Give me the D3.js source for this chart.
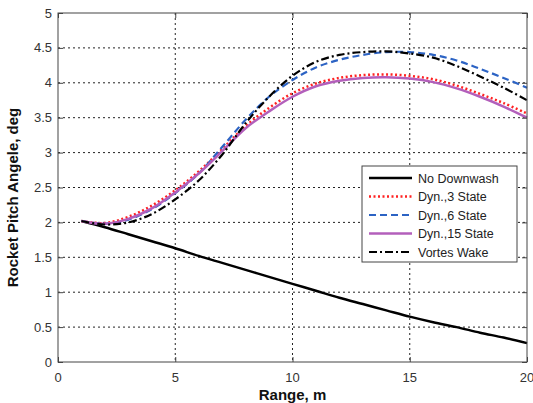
<!DOCTYPE html>
<html lang="en">
<head>
  <meta charset="UTF-8">
  <title>Rocket Pitch Angle vs Range</title>
  <script src="https://d3js.org/d3.v7.min.js"></script>
  <style>
    body {
      margin: 0;
      background: #fff;
      font-family: "Liberation Sans", Arial, sans-serif;
    }
    .grid line {
      stroke: #222;
      stroke-width: 1;
      stroke-dasharray: 2,3;
    }
    .tick-label {
      font-size: 13px;
      fill: #333;
    }
    .title {
      font-size: 15px;
      font-weight: bold;
      fill: #111;
    }
    .legend text {
      font-size: 12.5px;
      fill: #222;
    }
  </style>
</head>
<body>
  <script>
    const width = 533;
    const height = 403;

    // range samples (m)
    const range = [1, 2, 3, 4, 5, 6, 7, 8, 9, 10, 11, 12, 13, 14, 15, 16, 17, 18, 19, 20];

    // pitch angle, deg
    const noDownwash = [2.02, 1.93, 1.83, 1.73, 1.63, 1.52, 1.42, 1.32, 1.22, 1.12, 1.02, 0.92, 0.83, 0.74, 0.65, 0.57, 0.5, 0.42, 0.35, 0.27];
    const dyn3 = [2.02, 1.99, 2.08, 2.24, 2.46, 2.73, 3.05, 3.38, 3.64, 3.85, 3.99, 4.07, 4.11, 4.12, 4.1, 4.05, 3.96, 3.84, 3.71, 3.56];
    const dyn6 = [2.02, 1.98, 2.04, 2.19, 2.42, 2.7, 3.08, 3.47, 3.8, 4.04, 4.22, 4.33, 4.4, 4.44, 4.44, 4.4, 4.32, 4.2, 4.07, 3.93];
    const dyn15 = [2.02, 1.98, 2.05, 2.2, 2.43, 2.7, 3.02, 3.35, 3.59, 3.8, 3.95, 4.03, 4.07, 4.08, 4.06, 4.01, 3.92, 3.8, 3.66, 3.5];
    const vortex = [2.02, 1.97, 2.0, 2.12, 2.33, 2.6, 2.97, 3.42, 3.8, 4.1, 4.3, 4.4, 4.44, 4.45, 4.42, 4.36, 4.24, 4.09, 3.93, 3.75];

    const xTicks = [0, 5, 10, 15, 20];
    const yTicks = [0, 0.5, 1, 1.5, 2, 2.5, 3, 3.5, 4, 4.5, 5];

    const series = [
      { name: "No Downwash", values: noDownwash, color: "#000", width: 2.5, dash: null },
      { name: "Dyn.,3 State", values: dyn3, color: "#f22", width: 2.5, dash: "2,2.5" },
      { name: "Dyn.,6 State", values: dyn6, color: "#2c63c4", width: 2.2, dash: "7,4" },
      { name: "Dyn.,15 State", values: dyn15, color: "#b35fbb", width: 2.5, dash: null },
      { name: "Vortes Wake", values: vortex, color: "#000", width: 2.2, dash: "8,3,2,3" }
    ];

    const margin = { top: 13, right: 6, bottom: 41, left: 58 };
    const w = width - margin.left - margin.right;
    const h = height - margin.top - margin.bottom;

    const svg = d3.select("body").append("svg")
      .attr("width", width)
      .attr("height", height);

    const g = svg.append("g")
      .attr("transform", `translate(${margin.left},${margin.top})`);

    const x = d3.scaleLinear().domain([0, 20]).range([0, w]);
    const y = d3.scaleLinear().domain([0, 5]).range([h, 0]);

    // grid
    const grid = g.append("g").attr("class", "grid");
    grid.selectAll(".gx").data(xTicks.slice(1, -1)).enter().append("line")
      .attr("x1", d => x(d)).attr("x2", d => x(d))
      .attr("y1", 0).attr("y2", h);
    grid.selectAll(".gy").data(yTicks.slice(1, -1)).enter().append("line")
      .attr("x1", 0).attr("x2", w)
      .attr("y1", d => y(d)).attr("y2", d => y(d));

    // lines
    const line = d3.line()
      .x((d, i) => x(range[i]))
      .y(d => y(d))
      .curve(d3.curveCatmullRom.alpha(0.5));

    series.forEach(s => {
      g.append("path")
        .datum(s.values)
        .attr("fill", "none")
        .attr("stroke", s.color)
        .attr("stroke-width", s.width)
        .attr("stroke-dasharray", s.dash)
        .attr("d", line);
    });

    // frame + inward ticks
    g.append("rect")
      .attr("width", w).attr("height", h)
      .attr("fill", "none").attr("stroke", "#444").attr("stroke-width", 1);

    const axisBottom = d3.axisBottom(x).tickValues(xTicks).tickSize(-5).tickFormat("");
    const axisTop = d3.axisTop(x).tickValues(xTicks).tickSize(-5).tickFormat("");
    const axisLeft = d3.axisLeft(y).tickValues(yTicks).tickSize(-5).tickFormat("");
    const axisRight = d3.axisRight(y).tickValues(yTicks).tickSize(-5).tickFormat("");
    [[axisBottom, `translate(0,${h})`], [axisTop, null], [axisLeft, null], [axisRight, `translate(${w},0)`]]
      .forEach(([ax, t]) => {
        const a = g.append("g").attr("transform", t).call(ax);
        a.select(".domain").remove();
        a.selectAll("line").attr("stroke", "#444");
      });

    // tick labels
    g.selectAll(".xl").data(xTicks).enter().append("text")
      .attr("class", "tick-label")
      .attr("x", d => x(d)).attr("y", h + 20)
      .attr("text-anchor", "middle")
      .text(d => d);
    g.selectAll(".yl").data(yTicks).enter().append("text")
      .attr("class", "tick-label")
      .attr("x", -6).attr("y", d => y(d) + 4.5)
      .attr("text-anchor", "end")
      .text(d => d);

    // axis titles
    g.append("text").attr("class", "title")
      .attr("x", w / 2).attr("y", h + 38)
      .attr("text-anchor", "middle")
      .text("Range, m");
    g.append("text").attr("class", "title")
      .attr("transform", `translate(-40,${h / 2 + 10}) rotate(-90)`)
      .attr("text-anchor", "middle")
      .text("Rocket Pitch Angele, deg");

    // legend
    const lg = svg.append("g").attr("class", "legend")
      .attr("transform", "translate(362,166)");
    lg.append("rect")
      .attr("width", 155).attr("height", 96)
      .attr("fill", "#fff").attr("stroke", "#444").attr("stroke-width", 1);
    series.forEach((s, i) => {
      const yy = 12 + i * 18.5;
      lg.append("line")
        .attr("x1", 7).attr("x2", 50).attr("y1", yy).attr("y2", yy)
        .attr("stroke", s.color).attr("stroke-width", s.width)
        .attr("stroke-dasharray", s.dash);
      lg.append("text")
        .attr("x", 56).attr("y", yy + 4.5)
        .text(s.name);
    });
  </script>
</body>
</html>
